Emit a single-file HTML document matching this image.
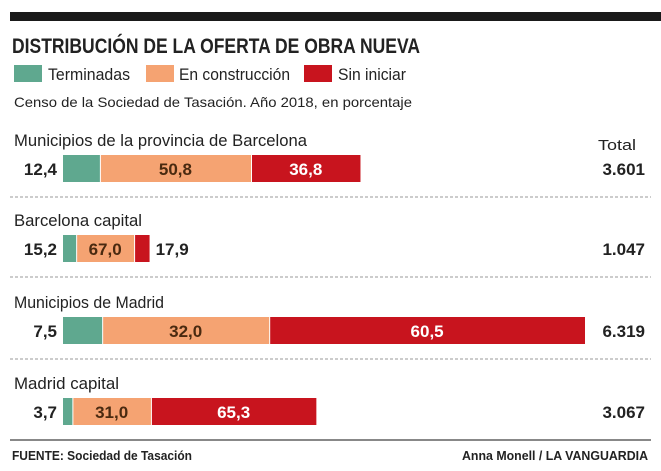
<!DOCTYPE html>
<html><head><meta charset="utf-8"><style>
body{margin:0;background:#fff;}
svg{display:block;font-family:"Liberation Sans Narrow","Liberation Sans",sans-serif;}
</style></head><body>
<svg id="c" width="661" height="471">
<rect x="10" y="12" width="651" height="9" fill="#1a1a1a"/>
<text x="12" y="53" font-size="21" font-weight="bold" fill="#222" textLength="408" lengthAdjust="spacingAndGlyphs">DISTRIBUCIÓN DE LA OFERTA DE OBRA NUEVA</text>
<g>
<rect x="14" y="65" width="28" height="17" fill="#5fa88f"/>
<text x="48" y="80" font-size="17" fill="#222" textLength="82" lengthAdjust="spacingAndGlyphs">Terminadas</text>
<rect x="146" y="65" width="28" height="17" fill="#f5a372"/>
<text x="179" y="80" font-size="17" fill="#222" textLength="111" lengthAdjust="spacingAndGlyphs">En construcción</text>
<rect x="304" y="65" width="28" height="17" fill="#c8141e"/>
<text x="338" y="80" font-size="17" fill="#222" textLength="68" lengthAdjust="spacingAndGlyphs">Sin iniciar</text>
</g>
<text x="14" y="107" font-size="14" fill="#222" textLength="398" lengthAdjust="spacingAndGlyphs">Censo de la Sociedad de Tasación. Año 2018, en porcentaje</text>
<text x="598" y="150" font-size="15" fill="#222" textLength="38" lengthAdjust="spacingAndGlyphs">Total</text>
<g id="rows"></g>
<line x1="10" y1="440" x2="651" y2="440" stroke="#888" stroke-width="2"/>
<text x="12" y="460" font-size="13" font-weight="bold" fill="#222" textLength="180" lengthAdjust="spacingAndGlyphs">FUENTE: Sociedad de Tasación</text>
<text x="462" y="460" font-size="13" font-weight="bold" fill="#222" textLength="186" lengthAdjust="spacingAndGlyphs">Anna Monell / LA VANGUARDIA</text>
</svg>
<script>
const categories=["Municipios de la provincia de Barcelona","Barcelona capital","Municipios de Madrid","Madrid capital"];
const terminadas=[12.4,15.2,7.5,3.7];
const enConstruccion=[50.8,67.0,32.0,31.0];
const sinIniciar=[36.8,17.9,60.5,65.3];
const totals=[3601,1047,6319,3067];
const colors=["#5fa88f","#f5a372","#c8141e"];
const NS="http://www.w3.org/2000/svg";
const g=document.getElementById('rows');
const x0=63, pxPerUnit=522/6319;
const rowTop=[155,235,317,398];
function fmt(v){return v.toFixed(1).replace('.',',');}
function fmtT(v){return v.toLocaleString('de-DE');}
function mk(tag,a,txt){const e=document.createElementNS(NS,tag);for(const k in a)e.setAttribute(k,a[k]);if(txt!=null)e.textContent=txt;g.appendChild(e);return e;}
categories.forEach((cat,i)=>{
  const y=rowTop[i], h=27;
  let t=mk('text',{x:14,y:y-9,'font-size':17,fill:'#222',textLength:Math.round(cat.length*7.5),lengthAdjust:'spacingAndGlyphs'},cat);
  
  
  const W=totals[i]*pxPerUnit;
  const vals=[terminadas[i],enConstruccion[i],sinIniciar[i]];
  let x=x0;
  vals.forEach((v,j)=>{
    const w=W*v/100;
    const r=mk('rect',{x:x+(j?1:0),y:y,width:Math.max(w-(j?1:0),1),height:h,fill:colors[j]});
    
    
    let lx,anchor='middle',fill=j===2?'#fff':'#4a2a10';
    if(j===0){lx=x0-6;anchor='end';fill='#222';}
    else if(w<30){lx=x+w+6;anchor='start';fill='#222';}
    else lx=x+w/2;
    const lt=mk('text',{x:lx,y:y+20,'font-size':17,'font-weight':'bold','text-anchor':anchor,fill:fill},fmt(v));
    
    
    x+=w;
  });
  const tt=mk('text',{x:645,y:y+20,'font-size':17,'font-weight':'bold','text-anchor':'end',fill:'#222'},fmtT(totals[i]));
  
  
  if(i<categories.length-1){
    const l=mk('line',{x1:10,y1:y+42,x2:651,y2:y+42,stroke:'#999','stroke-width':1,'stroke-dasharray':'3,2'});
    
    
  }
});
</script>
</body></html>
